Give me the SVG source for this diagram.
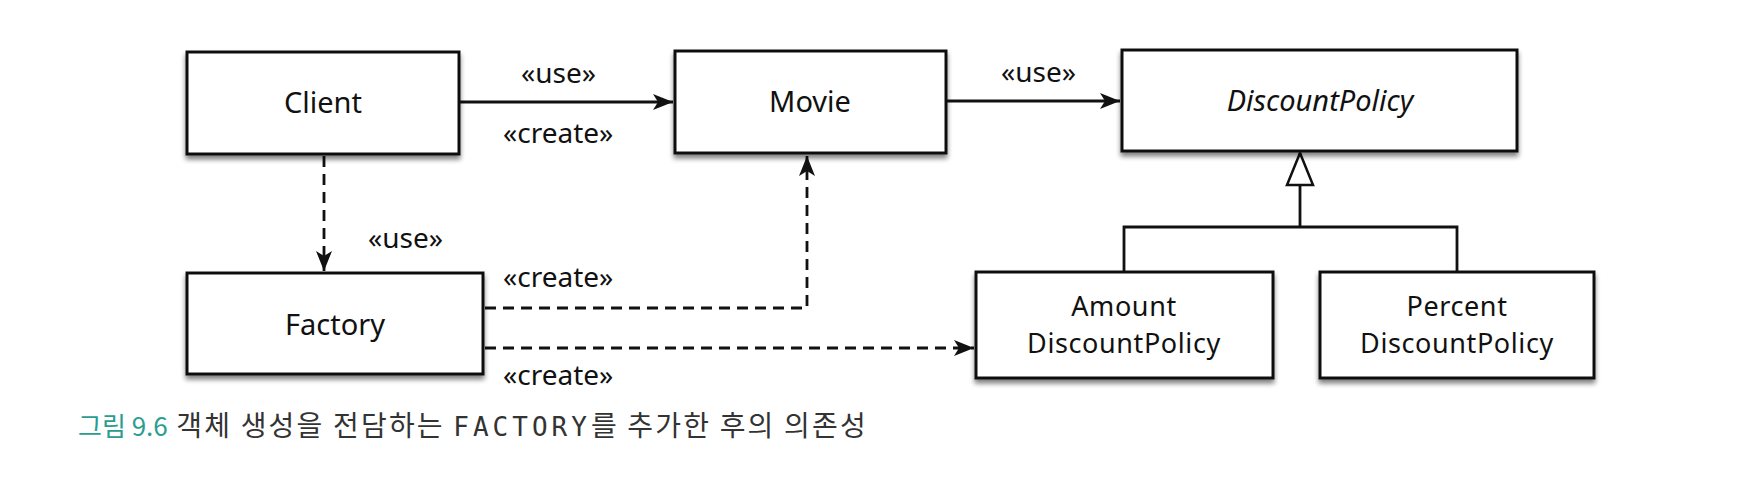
<svg xmlns="http://www.w3.org/2000/svg" width="1740" height="486" viewBox="0 0 1740 486">
<defs>
<filter id="sh" x="-5%" y="-10%" width="110%" height="130%">
<feGaussianBlur in="SourceAlpha" stdDeviation="2.5"/>
<feOffset dx="0" dy="4" result="b"/>
<feComponentTransfer><feFuncA type="linear" slope="0.5"/></feComponentTransfer>
<feMerge><feMergeNode/><feMergeNode in="SourceGraphic"/></feMerge>
</filter>
<marker id="ah" viewBox="0 0 20 16" markerWidth="20" markerHeight="16" refX="20" refY="8" orient="auto" markerUnits="userSpaceOnUse">
<path d="M0,0 L20,8 L0,16 L5,8 z" fill="#111"/>
</marker>
<marker id="tri" viewBox="0 0 36 30" markerWidth="36" markerHeight="30" refX="34" refY="15" orient="auto" markerUnits="userSpaceOnUse">
<path d="M2,2 L34,15 L2,28 z" fill="#fff" stroke="#111" stroke-width="2.5" stroke-linejoin="miter"/>
</marker>
</defs>
<style>
.box{fill:#fff;stroke:#111;stroke-width:3;filter:url(#sh)}
.t{font-family:"Noto Sans","Open Sans","DejaVu Sans",sans-serif;font-size:29px;fill:#111;text-anchor:middle}
.t2{font-size:27px;letter-spacing:0.6px}
.lbl{font-family:"Noto Sans","Open Sans","DejaVu Sans",sans-serif;font-size:28px;fill:#111}
.c{fill:none;stroke:#111;stroke-width:2.8}
.d{stroke-dasharray:11 7}
.cap{font-family:"Noto Sans CJK KR","Noto Sans",sans-serif;font-size:28px;fill:#333}
</style>
<rect width="1740" height="486" fill="#fff"/>
<g id="connectors">
<line class="c" x1="459" y1="102" x2="673" y2="102" marker-end="url(#ah)"/>
<line class="c" x1="946" y1="101" x2="1120" y2="101" marker-end="url(#ah)"/>
<line class="c d" x1="324" y1="156" x2="324" y2="271" marker-end="url(#ah)"/>
<polyline class="c d" points="485,308 807,308 807,156" marker-end="url(#ah)"/>
<line class="c d" x1="485" y1="348" x2="974" y2="348" marker-end="url(#ah)"/>
<polyline class="c" points="1124,272 1124,227 1457,227 1457,272"/>
<line class="c" x1="1300" y1="227" x2="1300" y2="153" marker-end="url(#tri)"/>
<text class="lbl" x="521" y="83">«use»</text>
<text class="lbl" x="503" y="143">«create»</text>
<text class="lbl" x="1001" y="82">«use»</text>
<text class="lbl" x="368" y="248">«use»</text>
<text class="lbl" x="503" y="287">«create»</text>
<text class="lbl" x="503" y="385">«create»</text>
</g>
<g id="client"><rect class="box" x="187" y="52" width="272" height="102"/><text class="t" x="323" y="113">Client</text></g>
<g id="movie"><rect class="box" x="675" y="51" width="271" height="102"/><text class="t" x="810" y="112">Movie</text></g>
<g id="discountpolicy"><rect class="box" x="1122" y="50" width="395" height="101"/><text class="t" x="1320" y="111" font-style="italic" font-size="31">DiscountPolicy</text></g>
<g id="factory"><rect class="box" x="187" y="273" width="296" height="101"/><text class="t" x="335" y="335">Factory</text></g>
<g id="amount"><rect class="box" x="976" y="272" width="297" height="106"/><text class="t t2" x="1124" y="316">Amount</text><text class="t t2" x="1124" y="353">DiscountPolicy</text></g>
<g id="percent"><rect class="box" x="1320" y="272" width="274" height="106"/><text class="t t2" x="1457" y="316">Percent</text><text class="t t2" x="1457" y="353">DiscountPolicy</text></g>
<text class="cap" x="78" y="436"><tspan fill="#2a9d8f" font-size="26">그림 9.6</tspan><tspan letter-spacing="2.2"> 객체 생성을 전담하는 </tspan><tspan font-family="'DejaVu Sans Mono','Liberation Mono',monospace" font-size="26" letter-spacing="4">FACTORY</tspan><tspan letter-spacing="2.2">를 추가한 후의 의존성</tspan></text>
</svg>
